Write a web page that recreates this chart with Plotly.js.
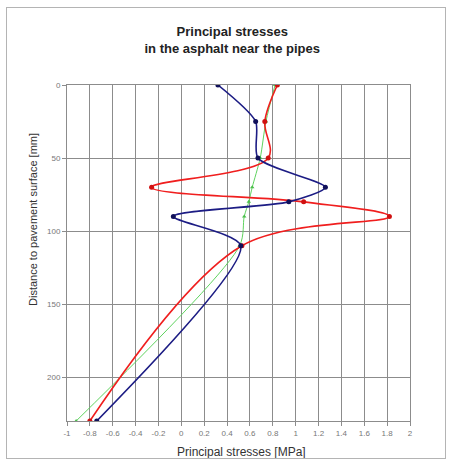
<!DOCTYPE html>
<html>
<head>
<meta charset="utf-8">
<script src="https://cdn.plot.ly/plotly-3.0.1.min.js"></script>
<style>
html,body{margin:0;padding:0;background:#fff;}
#wrap{position:relative;width:451px;height:464px;}
#chart{position:absolute;left:0;top:0;width:451px;height:464px;}
#frame{position:absolute;left:6px;top:7px;width:438px;height:450px;border:1px solid #b4b4b4;pointer-events:none;}
</style>
</head>
<body>
<div id="wrap"><div id="chart"></div><div id="frame"></div></div>
<script>
// Depth below pavement surface [mm]
const depth = [0, 25, 50, 70, 80, 90, 110, 230];
// Principal stresses [MPa]
const sigmaBlue  = [0.32, 0.65, 0.67, 1.26, 0.94, -0.07, 0.52, -0.74];
const sigmaRed   = [0.84, 0.73, 0.76, -0.26, 1.07, 1.82, 0.53, -0.80];
const sigmaGreen = [0.82, 0.74, 0.69, 0.62, 0.59, 0.55, 0.51, -0.92];

const xTicks = [-1, -0.8, -0.6, -0.4, -0.2, 0, 0.2, 0.4, 0.6, 0.8, 1, 1.2, 1.4, 1.6, 1.8, 2];
const yTicks = [0, 50, 100, 150, 200];

const FONT = 'Liberation Sans, Arial, sans-serif';

function series(xs, color, width, smooth, mcolor, msize, symbol) {
  return {x: xs, y: depth, mode: 'lines+markers', type: 'scatter',
          line: {color: color, width: width, shape: 'spline', smoothing: smooth},
          marker: {color: mcolor, size: msize, symbol: symbol}};
}

const traces = [
  series(sigmaGreen, '#5fd35f', 1, 0.8, '#4cbf4c', 4, 'triangle-up'),
  series(sigmaRed, '#f01e1e', 1.6, 1, '#d01010', 5, 'circle'),
  series(sigmaBlue, '#1c1c84', 1.6, 0.7, '#10105a', 5, 'circle')
];

const layout = {
  width: 451, height: 464,
  margin: {l: 67, r: 41, t: 85, b: 43},
  paper_bgcolor: '#fff', plot_bgcolor: '#fff',
  showlegend: false,
  title: {text: '<b>Principal stresses<br>in the asphalt near the pipes</b>',
          font: {family: FONT, size: 13, color: '#222'},
          x: 0.515, xanchor: 'center', y: 0.922, yanchor: 'top'},
  xaxis: {range: [-1, 2], tickvals: xTicks, ticktext: xTicks.map(String),
          showgrid: true, gridcolor: '#8c8c8c', gridwidth: 1,
          zeroline: false, showline: true, linecolor: '#8c8c8c', mirror: true,
          ticks: 'outside', ticklen: 4, tickcolor: '#8c8c8c',
          tickfont: {family: FONT, size: 8, color: '#777'}},
  yaxis: {range: [230, 0], tickvals: yTicks, ticktext: yTicks.map(String),
          showgrid: true, gridcolor: '#8c8c8c', gridwidth: 1,
          zeroline: false, showline: true, linecolor: '#8c8c8c', mirror: true,
          ticks: 'outside', ticklen: 4, tickcolor: '#8c8c8c',
          tickfont: {family: FONT, size: 8, color: '#777'}},
  annotations: [
    {text: 'Principal stresses [MPa]', xref: 'paper', yref: 'paper',
     x: (241 - 67) / 343, y: -(452 - 421) / 336, xanchor: 'center', yanchor: 'middle',
     showarrow: false, font: {family: FONT, size: 12, color: '#333'}},
    {text: 'Distance to pavement surface [mm]', xref: 'paper', yref: 'paper',
     x: -(67 - 33) / 343, y: (421 - 220) / 336, xanchor: 'center', yanchor: 'middle',
     textangle: -90, showarrow: false, font: {family: FONT, size: 11, color: '#333'}}
  ]
};

Plotly.newPlot('chart', traces, layout, {staticPlot: true, displayModeBar: false});
</script>
</body>
</html>
